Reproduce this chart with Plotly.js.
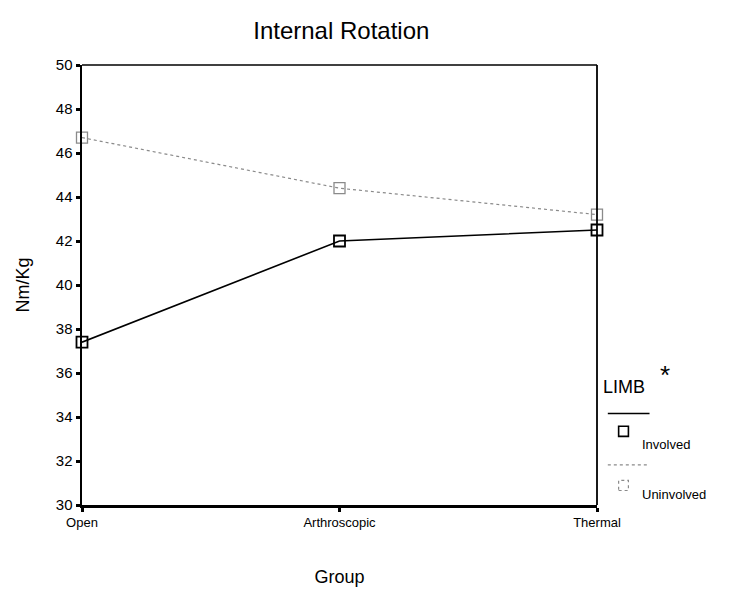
<!DOCTYPE html>
<html>
<head>
<meta charset="utf-8">
<script src="https://cdn.plot.ly/plotly-3.0.1.min.js"></script>
<style>
  html, body { margin: 0; padding: 0; background: #fff; }
  #chart { width: 734px; height: 592px; }
</style>
</head>
<body>
<div id="chart"></div>
<script>
// Peak internal rotation torque (Nm/Kg) by surgical group
const groups = ["Open", "Arthroscopic", "Thermal"];
const involved = [37.4, 42.0, 42.5];
const uninvolved = [46.7, 44.4, 43.2];
const yTicks = [30, 32, 34, 36, 38, 40, 42, 44, 46, 48, 50];

const xPos = groups.map((g, i) => i);
const font = "Liberation Sans, Arial, sans-serif";

const traces = [
  {
    x: xPos, y: uninvolved, name: "Uninvolved", type: "scatter", mode: "lines+markers",
    line: { color: "#8a8a8a", width: 1.2, dash: "dot" },
    marker: { symbol: "square-open", size: 11, color: "#8a8a8a", line: { width: 1.3 } },
    cliponaxis: false
  },
  {
    x: xPos, y: involved, name: "Involved", type: "scatter", mode: "lines+markers",
    line: { color: "#000", width: 1.6 },
    marker: { symbol: "square-open", size: 11, color: "#000", line: { width: 1.8 } },
    cliponaxis: false
  }
];

const layout = {
  width: 734, height: 592,
  margin: { l: 82, r: 137, t: 65, b: 87 },
  paper_bgcolor: "#fff", plot_bgcolor: "#fff",
  showlegend: false,
  font: { family: font, color: "#000" },
  title: { text: "Internal Rotation", font: { size: 24, family: font }, x: 0.465, xanchor: "center", y: 0.948, yanchor: "middle" },
  xaxis: {
    range: [0, 2], tickvals: xPos, ticktext: groups,
    showgrid: false, zeroline: false,
    showline: true, linecolor: "#000", linewidth: 2.5,
    ticks: "outside", ticklen: 4, tickwidth: 3, tickcolor: "#000",
    tickfont: { size: 13, family: font },
    title: { text: "Group", font: { size: 18, family: font }, standoff: 42 }
  },
  yaxis: {
    range: [30, 50], tickvals: yTicks,
    showgrid: false, zeroline: false,
    showline: true, linecolor: "#000", linewidth: 2.5,
    ticks: "outside", ticklen: 4, tickwidth: 3, tickcolor: "#000",
    tickfont: { size: 15, family: font },
    title: { text: "Nm/Kg", font: { size: 18, family: font }, standoff: 22 }
  },
  shapes: [
    // thin top and right frame
    { type: "line", xref: "paper", yref: "paper", x0: 0, x1: 1, y0: 1, y1: 1, line: { color: "#000", width: 1.5 } },
    { type: "line", xref: "paper", yref: "paper", x0: 1, x1: 1, y0: 0, y1: 1, line: { color: "#000", width: 1.8 } },
    // legend line samples
    { type: "line", xref: "paper", yref: "paper", x0: 1.021, x1: 1.102, y0: 0.208, y1: 0.208, line: { color: "#000", width: 1.5 } },
    { type: "line", xref: "paper", yref: "paper", x0: 1.021, x1: 1.102, y0: 0.091, y1: 0.091, line: { color: "#8a8a8a", width: 1.2, dash: "dot" } },
    // legend marker samples
    { type: "rect", xref: "paper", yref: "paper", x0: 1.042, x1: 1.061, y0: 0.156, y1: 0.179, line: { color: "#000", width: 1.6 }, fillcolor: "rgba(0,0,0,0)" },
    { type: "rect", xref: "paper", yref: "paper", x0: 1.042, x1: 1.061, y0: 0.033, y1: 0.056, line: { color: "#8a8a8a", width: 1.2, dash: "dot" }, fillcolor: "rgba(0,0,0,0)" }
  ],
  annotations: [
    { text: "LIMB", xref: "paper", yref: "paper", x: 1.008, y: 0.268, xanchor: "left", yanchor: "middle", showarrow: false, font: { size: 18, family: font } },
    { text: "*", xref: "paper", yref: "paper", x: 1.118, y: 0.296, xanchor: "left", yanchor: "middle", showarrow: false, font: { size: 26, family: font } },
    { text: "Involved", xref: "paper", yref: "paper", x: 1.083, y: 0.138, xanchor: "left", yanchor: "middle", showarrow: false, font: { size: 13, family: font } },
    { text: "Uninvolved", xref: "paper", yref: "paper", x: 1.083, y: 0.023, xanchor: "left", yanchor: "middle", showarrow: false, font: { size: 13, family: font } }
  ]
};

Plotly.newPlot("chart", traces, layout, { staticPlot: true, displayModeBar: false });
</script>
</body>
</html>
